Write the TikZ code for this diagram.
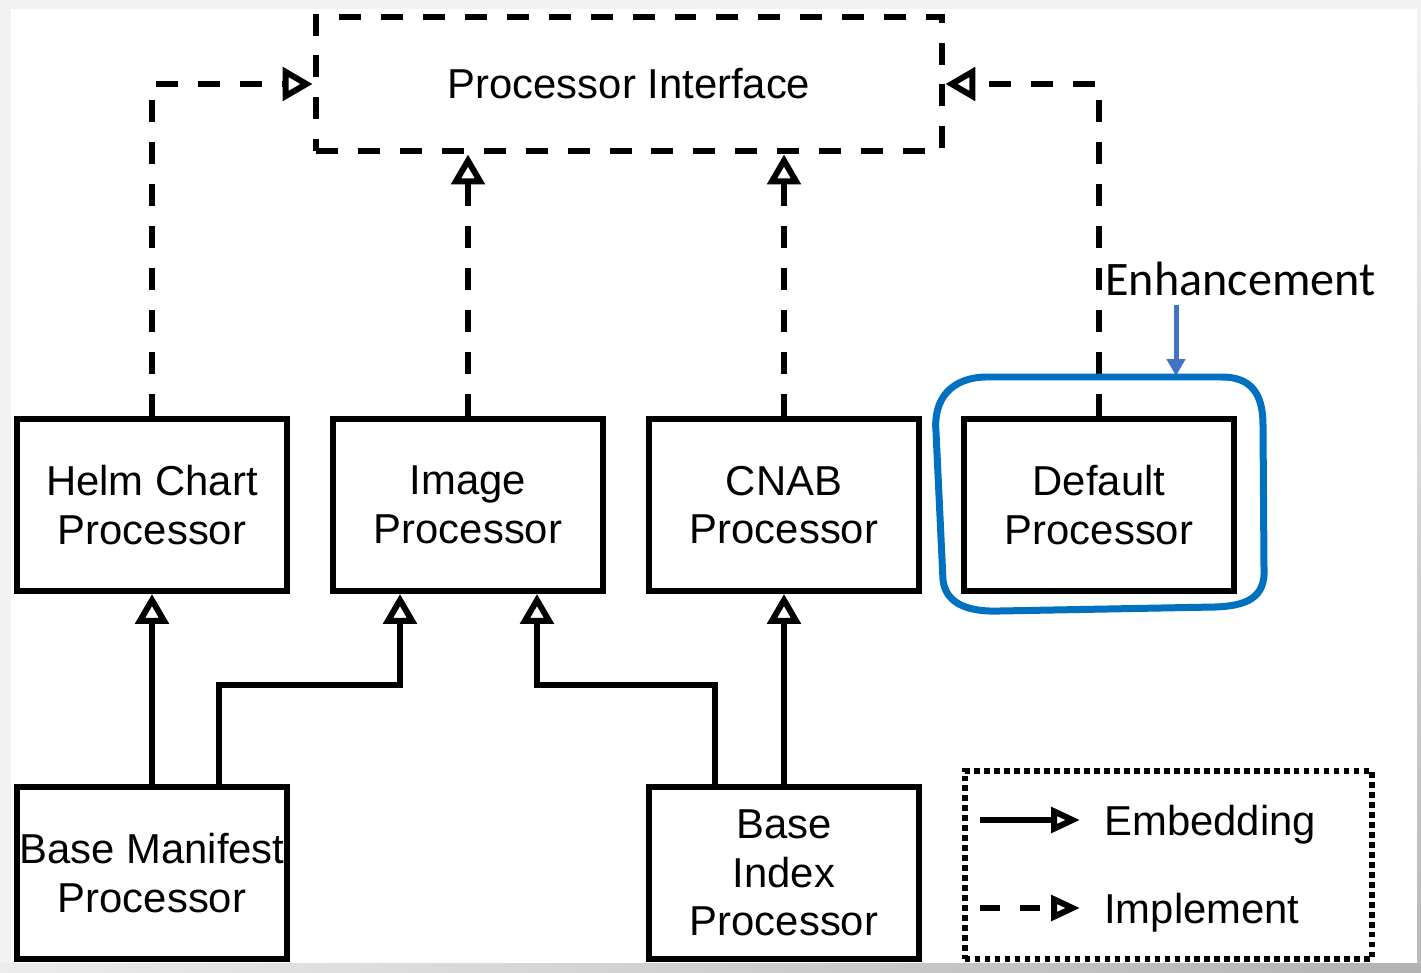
\documentclass[tikz,border=0pt]{standalone}
\usepackage{fontspec}
\setmainfont{Liberation Sans}
\newfontfamily\enhfont{Carlito}
\usetikzlibrary{arrows.meta}
\definecolor{enhblue}{HTML}{0070C0}
\definecolor{ptrblue}{HTML}{4472C4}
\begin{document}
\begin{tikzpicture}[x=0.02cm,y=-0.02cm,
  proc/.style={draw,line width=0.12cm,minimum width=5.42cm,minimum height=3.44cm,
    inner sep=0pt,align=center,font=\fontsize{23.8}{27.6}\selectfont},
  legtext/.style={inner sep=0pt,font=\fontsize{23.8}{27.6}\selectfont},
  emb/.style={line width=0.12cm,-{Triangle[open,length=0.6cm,width=0.66cm]}},
  impl/.style={emb,dash pattern=on 0.44cm off 0.4cm},
  legtip/.style={-{Triangle[open,length=0.58cm,width=0.5cm]}},
  pointer/.style={draw=ptrblue,line width=0.1cm,-{Triangle[length=0.34cm,width=0.36cm]}},
  blueline/.style={draw=enhblue,line width=0.14cm}]
\useasboundingbox (0,0) rectangle (1421,973);
% page with its shadow
\fill[gray!10] (0,0) rectangle (1421,973);
\fill[white] (11,9) rectangle (1417,963);
\shade[left color=gray!15,right color=gray!60] (0,963) rectangle (1421,973);
\shade[top color=gray!10,bottom color=gray!55] (1417,9) rectangle (1421,963);

\node[proc,dash pattern=on 0.44cm off 0.4cm,minimum width=12.54cm,minimum height=2.7cm] (iface) at (629,84) {Processor Interface};

\node[proc] (helm) at (152,505) {Helm Chart\\Processor};
\node[proc] (image) at (468,505) {Image\\Processor};
\node[proc] (cnab) at (784,505) {CNAB\\Processor};
\node[proc] (default) at (1099,505) {Default\\Processor};

\node[proc] (manifest) at (152,873) {Base Manifest\\Processor};
\node[proc] (index) at (784,873) {Base\\Index\\Processor};

\draw[impl] (helm.north) |- (iface.west);
\draw[impl] (image.north) -- (image.north |- iface.south);
\draw[impl] (cnab.north) -- (cnab.north |- iface.south);
\draw[impl] (default.north) |- (iface.east);

\draw[emb] (manifest.north) -- (helm.south);
\draw[emb] ([xshift=1.34cm]manifest.north) -- ++(0,-99) -| ([xshift=-1.36cm]image.south);
\draw[emb] ([xshift=-1.38cm]index.north) -- ++(0,-99) -| ([xshift=1.38cm]image.south);
\draw[emb] (index.north) -- (cnab.south);

% legend
\node[draw,line width=0.12cm,dash pattern=on 0.11cm off 0.09cm,minimum width=8.16cm,minimum height=3.78cm] (legend) at (1168.5,865) {};
\node[legtext,anchor=base west] (embtxt) at (1104,835) {Embedding};
\node[legtext,anchor=base west] (impltxt) at (1104,923) {Implement};
\coordinate (embA) at (980,820);
\coordinate (embB) at (1080,820);
\coordinate (implA) at (980,908);
\coordinate (implB) at (1080,908);
\draw[emb,legtip] (embA) -- (embB);
\draw[emb,legtip,dash pattern=on 0.4cm off 0.4cm] (implA) -- (implB);

% enhancement mark
\node[inner sep=0pt,anchor=base west,font=\enhfont\fontsize{27.4}{32}\selectfont] (enh) at (1105,296) {Enhancement};
\coordinate (ptrtop) at (1176,305);
\coordinate (ptrtip) at (1176,376);
\draw[pointer] (ptrtop) -- (ptrtip);
\draw[blueline] (985,377) -- (1222,377) .. controls (1252,377) and (1263,395) .. (1263,425)
  -- (1264,568) .. controls (1266,598) and (1246,606) .. (1215,607)
  -- (1000,611) .. controls (972,612) and (946,606) .. (943,580)
  -- (936,432) .. controls (933,398) and (952,378) .. (985,377) -- cycle;
\end{tikzpicture}
\end{document}
